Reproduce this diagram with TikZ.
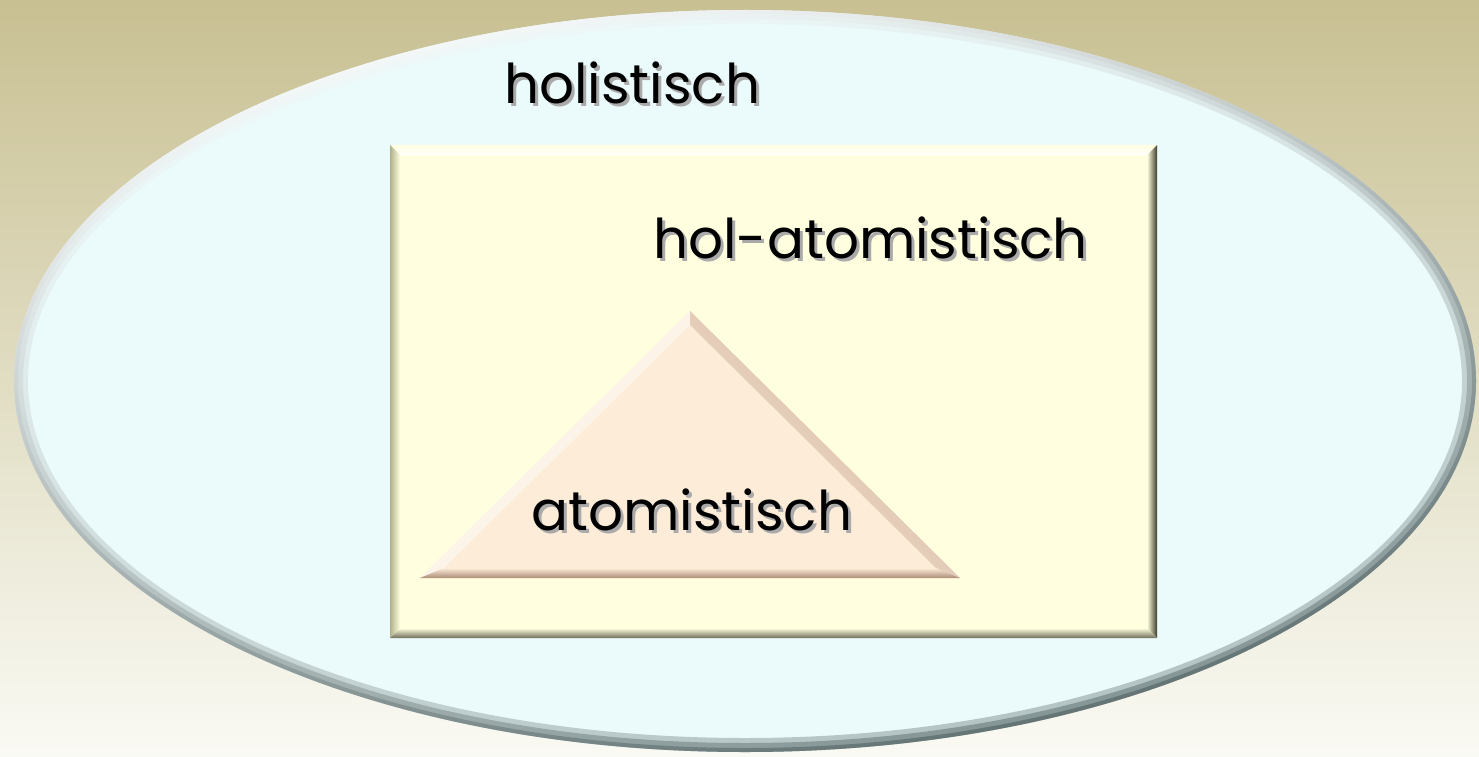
\documentclass[tikz,border=0pt]{standalone}
\usepackage{fontspec}
\setmainfont{Poppins}
\usetikzlibrary{calc}
\definecolor{bgtop}{RGB}{200,192,146}
\definecolor{bgbot}{RGB}{250,250,244}
\definecolor{ellfill}{RGB}{235,250,250}
\definecolor{elldark}{RGB}{70,88,88}
\definecolor{ellmid}{RGB}{190,210,210}
\definecolor{rectfill}{RGB}{255,255,224}
\definecolor{rectdarkL}{RGB}{176,176,136}
\definecolor{rectdarkR}{RGB}{60,60,44}
\definecolor{rectdarkB}{RGB}{110,110,90}
\definecolor{trifill}{RGB}{253,236,216}
\definecolor{tridarkR}{RGB}{200,170,150}
\definecolor{tridarkB}{RGB}{170,140,120}
\definecolor{txtshadow}{RGB}{170,170,170}
\newcommand\shadowtxt[1]{\leavevmode\rlap{\kern3bp\raisebox{-3bp}{\textcolor{txtshadow}{#1}}}#1}
\begin{document}
\begin{tikzpicture}[x=1bp,y=-1bp,
  lbl/.style={font=\fontsize{55}{60}\selectfont, anchor=base west, inner sep=0pt, text=black}]
\useasboundingbox (0,0) rectangle (1479,756);
\shade[top color=bgtop, bottom color=bgbot] (0,0) rectangle (1479,756);
% ellipse
\coordinate (EC) at (745,381);
\fill[ellfill] (EC) ellipse [x radius=731, y radius=371];
\foreach \w/\o in {14/0.35,9/0.45,4/0.6}{
  \shade[top color=white, middle color=ellmid, bottom color=elldark, shading angle=15, even odd rule, opacity=\o]
    (EC) ellipse [x radius=731, y radius=371]
    (EC) ellipse [x radius=731-\w, y radius=371-\w];
}
% rectangle
\coordinate (R1) at (390,145);
\coordinate (R2) at (1157,638);
\fill[rectfill] (R1) rectangle (R2);
\shade[top color=rectfill, bottom color=white] (390,145) -- (1157,145) -- (1147,155) -- (400,155) -- cycle;
\shade[left color=rectdarkL, right color=rectfill] (390,145) -- (400,155) -- (400,628) -- (390,638) -- cycle;
\shade[left color=rectfill, right color=rectdarkR] (1157,145) -- (1147,155) -- (1147,628) -- (1157,638) -- cycle;
\shade[top color=rectfill, bottom color=rectdarkB] (390,638) -- (400,628) -- (1147,628) -- (1157,638) -- cycle;
% triangle
\coordinate (TA) at (690,311);
\coordinate (TB) at (420,578);
\coordinate (TC) at (960,578);
\coordinate (ta) at (690,325);
\coordinate (tb) at (444,568);
\coordinate (tc) at (936,568);
\fill[trifill] (TA) -- (TB) -- (TC) -- cycle;
\shade[top color=white, bottom color=trifill, shading angle=45, opacity=0.9] (TA) -- (TB) -- (tb) -- (ta) -- cycle;
\shade[top color=tridarkR, bottom color=trifill, shading angle=-45] (TA) -- (ta) -- (tc) -- (TC) -- cycle;
\shade[top color=trifill, bottom color=tridarkB] (TB) -- (tb) -- (tc) -- (TC) -- cycle;
% labels
\node[lbl] (holi) at (504,103) {\shadowtxt{holistisch}};
\node[lbl] (holat) at (653,258) {\shadowtxt{hol-atomistisch}};
\node[lbl] (atom) at (531,530) {\shadowtxt{atomistisch}};
\end{tikzpicture}
\end{document}
